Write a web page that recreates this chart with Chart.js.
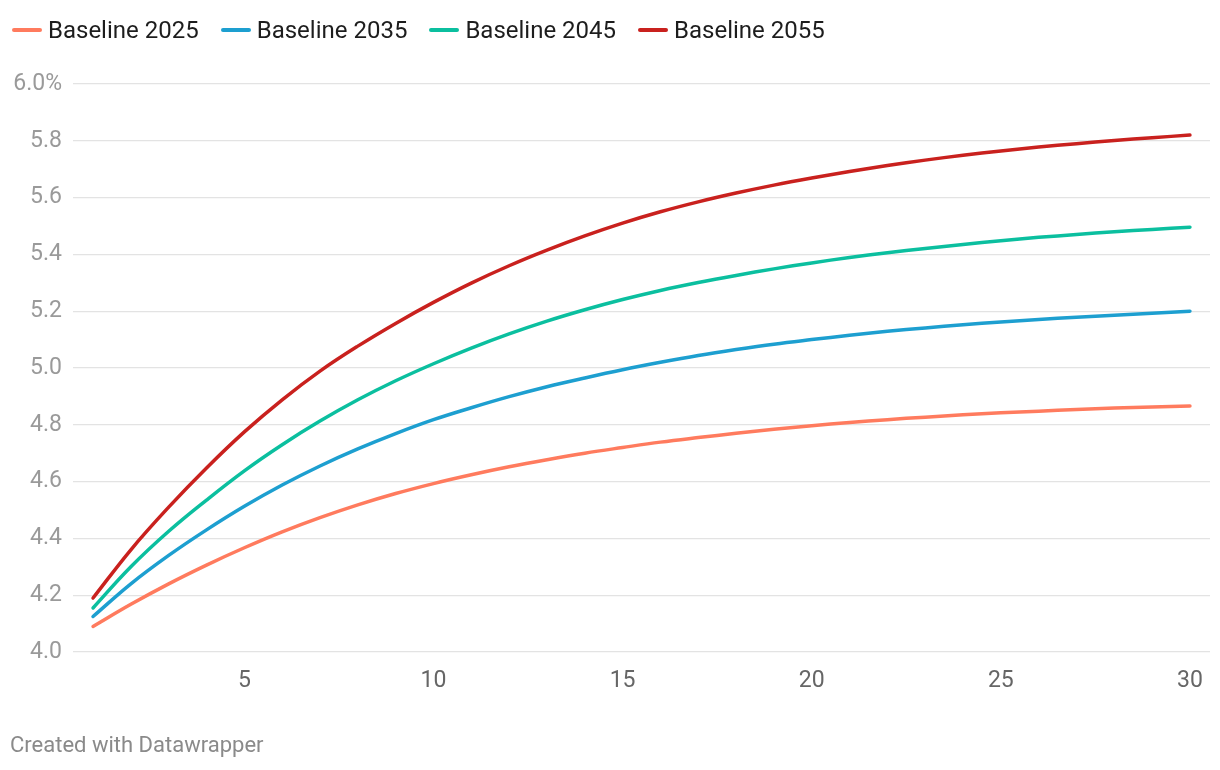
<!DOCTYPE html>
<html>
<head>
<meta charset="utf-8">
<script src="https://cdn.jsdelivr.net/npm/chart.js@4"></script>
<style>
  html, body { margin: 0; padding: 0; background: #fff; }
  body { width: 1220px; height: 770px; position: relative; overflow: hidden; font-family: Roboto, "Noto Sans", sans-serif; }
  #wrap { position: absolute; left: 0; top: 0; width: 1220px; height: 770px; }
  #legend { position: absolute; left: 12px; top: 16px; display: flex; font-size: 24px; line-height: 28px; color: #1d1d1d; }
  .item { display: flex; align-items: center; margin-right: 22px; }
  .sw { width: 30px; height: 4.5px; border-radius: 2.5px; margin-right: 6px; }
  #footer { position: absolute; left: 10px; top: 731px; font-size: 22px; line-height: 28px; color: #8a8a8a; }
</style>
</head>
<body>
<div id="wrap"><canvas id="c" width="1220" height="770"></canvas></div>
<div id="legend"></div>
<div id="footer">Created with Datawrapper</div>
<script>
const years = [1,2,3,4,5,6,7,8,9,10,11,12,13,14,15,16,17,18,19,20,21,22,23,24,25,26,27,28,29,30];
const seriesNames = ["Baseline 2025", "Baseline 2035", "Baseline 2045", "Baseline 2055"];
const seriesColors = ["#ff7b5e", "#1d9fd0", "#0bbf9f", "#c9211e"];
const baseline2025 = [4.09,4.168,4.24,4.306,4.367,4.423,4.473,4.518,4.558,4.593,4.624,4.652,4.677,4.70,4.72,4.739,4.755,4.77,4.784,4.797,4.808,4.818,4.827,4.835,4.842,4.848,4.854,4.859,4.863,4.866];
const baseline2035 = [4.125,4.24,4.34,4.43,4.513,4.588,4.655,4.715,4.769,4.818,4.86,4.899,4.934,4.965,4.994,5.02,5.044,5.065,5.084,5.10,5.115,5.129,5.141,5.152,5.162,5.171,5.179,5.186,5.193,5.20];
const baseline2045 = [4.155,4.30,4.425,4.535,4.638,4.73,4.813,4.888,4.955,5.015,5.07,5.12,5.165,5.205,5.241,5.273,5.301,5.326,5.349,5.37,5.389,5.406,5.421,5.435,5.448,5.46,5.47,5.48,5.488,5.496];
const baseline2055 = [4.19,4.36,4.51,4.648,4.775,4.888,4.989,5.077,5.157,5.231,5.299,5.36,5.415,5.465,5.51,5.55,5.585,5.616,5.644,5.669,5.692,5.713,5.732,5.749,5.764,5.778,5.79,5.801,5.811,5.82];
const xTicks = [5,10,15,20,25,30];
const yTicks = [4.0,4.2,4.4,4.6,4.8,5.0,5.2,5.4,5.6,5.8,6.0];

const allSeries = [baseline2025, baseline2035, baseline2045, baseline2055];

const legend = document.getElementById('legend');
seriesNames.forEach((n, i) => {
  const it = document.createElement('div'); it.className = 'item';
  const sw = document.createElement('div'); sw.className = 'sw'; sw.style.background = seriesColors[i];
  const tx = document.createElement('span'); tx.textContent = n;
  it.appendChild(sw); it.appendChild(tx); legend.appendChild(it);
});

const datasets = allSeries.map((vals, i) => ({
  label: seriesNames[i],
  data: vals.map((v, j) => ({x: years[j], y: v})),
  borderColor: seriesColors[i],
  backgroundColor: seriesColors[i],
  borderWidth: 3.5,
  pointRadius: 0,
  tension: 0.4,
  borderCapStyle: 'round',
  borderJoinStyle: 'round',
  fill: false
}));

new Chart(document.getElementById('c'), {
  type: 'line',
  data: { datasets },
  options: {
    responsive: false,
    animation: false,
    devicePixelRatio: 1,
    layout: { padding: { top: 84, right: 10, bottom: 0, left: 0 } },
    plugins: { legend: { display: false }, tooltip: { enabled: false } },
    scales: {
      x: {
        type: 'linear',
        min: 0.47, max: 30.53,
        afterBuildTicks: s => { s.ticks = xTicks.map(v => ({ value: v })); },
        afterFit: s => { s.height = 118; },
        grid: { display: false },
        border: { display: false },
        ticks: { color: '#666', font: { family: 'Roboto', size: 23 }, padding: 7, autoSkip: false, maxRotation: 0 }
      },
      y: {
        min: 4.0, max: 6.0,
        afterBuildTicks: s => { s.ticks = yTicks.map(v => ({ value: v })); },
        afterFit: s => { s.width = 73; },
        grid: { color: '#e3e3e3', lineWidth: 1.3, drawTicks: false },
        border: { display: false },
        ticks: {
          color: '#9a9a9a', font: { family: 'Roboto', size: 23 }, padding: 11,
          callback: v => (Math.abs(v - 6) < 1e-9 ? v.toFixed(1) + '%' : v.toFixed(1))
        }
      }
    }
  }
});
</script>
</body>
</html>
